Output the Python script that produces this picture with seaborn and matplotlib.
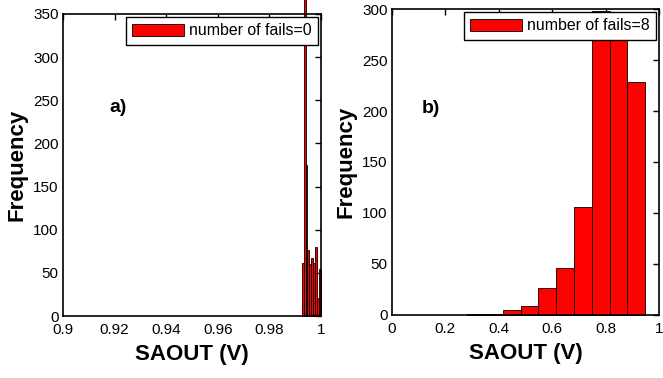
import numpy as np
import pandas as pd
import matplotlib
matplotlib.use("Agg")
import matplotlib.pyplot as plt
from matplotlib.patches import Patch
import seaborn as sns

# histogram counts (10 bins each, MATLAB-style hist)
counts_a = [62, 420, 175, 77, 60, 67, 61, 80, 21, 55]
range_a = (0.9926, 0.9999)
counts_b = [1, 1, 5, 9, 26, 46, 106, 298, 279, 228]
range_b = (0.282, 0.948)

xticks_a = [0.9, 0.92, 0.94, 0.96, 0.98, 1.0]
xticks_b = [0, 0.2, 0.4, 0.6, 0.8, 1.0]
yticks_a = [0, 50, 100, 150, 200, 250, 300, 350]
yticks_b = [0, 50, 100, 150, 200, 250, 300]
legend_a = "number of fails=0"
legend_b = "number of fails=8"

sns.set_style("white")
plt.rcParams['font.family'] = ['Liberation Sans', 'DejaVu Sans']
plt.rcParams['text.color'] = 'black'
plt.rcParams['axes.labelcolor'] = 'black'
plt.rcParams['xtick.color'] = 'black'
plt.rcParams['ytick.color'] = 'black'


def draw_hist(ax, counts, rng, xticks, yticks, legend_text, tag, tag_pos):
    edges = np.linspace(rng[0], rng[1], len(counts) + 1)
    df = pd.DataFrame({'saout': (edges[:-1] + edges[1:]) / 2,
                       'count': counts})
    sns.histplot(data=df, x='saout', weights='count', bins=edges.tolist(), ax=ax,
                 color='red', edgecolor='black', linewidth=0.6, alpha=1)
    # the tallest bar runs past the top of the axes, like in the original
    for p in ax.patches:
        p.set_clip_on(False)
    ax.set_xlim(xticks[0], xticks[-1])
    ax.set_ylim(yticks[0], yticks[-1])
    ax.set_xticks(xticks)
    ax.set_yticks(yticks)
    ax.set_xticklabels([f"{t:g}" for t in xticks])
    ax.tick_params(direction='in', top=True, right=True, length=4,
                   width=1, labelsize=11)
    ax.tick_params(axis='x', pad=5)
    ax.tick_params(axis='y', pad=3)
    for s in ax.spines.values():
        s.set_visible(True)
        s.set_linewidth(1.2)
        s.set_color('black')
    ax.set_xlabel('SAOUT (V)', fontsize=16, fontweight='bold', labelpad=5)
    ax.set_ylabel('Frequency', fontsize=16, fontweight='bold', labelpad=4)
    ax.text(tag_pos[0], tag_pos[1], tag, transform=ax.transAxes,
            fontsize=14, fontweight='bold', va='center', ha='left')
    handle = Patch(facecolor='red', edgecolor='black', linewidth=0.6)
    leg = ax.legend([handle], [legend_text], loc='upper right',
                    bbox_to_anchor=(0.988, 0.99), borderaxespad=0,
                    fontsize=11.4, fancybox=False, framealpha=1,
                    handlelength=3.3, handleheight=0.85, handletextpad=0.3,
                    borderpad=0.4)
    leg.get_frame().set_edgecolor('black')
    leg.get_frame().set_linewidth(1.0)


fig = plt.figure(figsize=(6.63, 3.78), dpi=100)
ax1 = fig.add_axes([0.095, 0.164, 0.389, 0.799])
ax2 = fig.add_axes([0.591, 0.167, 0.403, 0.809])

draw_hist(ax1, counts_a, range_a, xticks_a, yticks_a, legend_a, 'a)', (0.18, 0.69))
draw_hist(ax2, counts_b, range_b, xticks_b, yticks_b, legend_b, 'b)', (0.111, 0.676))

fig.savefig('out.png', dpi=100)
